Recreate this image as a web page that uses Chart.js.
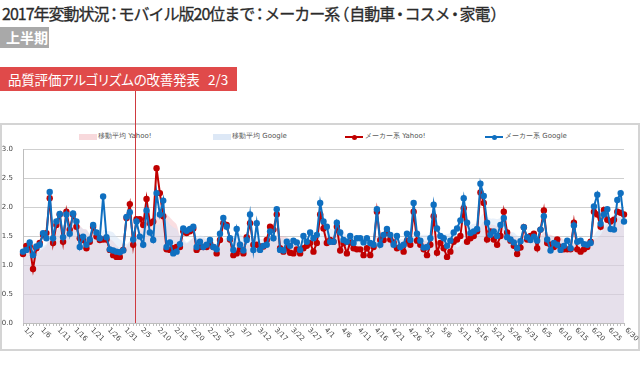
<!DOCTYPE html>
<html><head><meta charset="utf-8">
<script src="https://cdn.jsdelivr.net/npm/chart.js@4.4.1/dist/chart.umd.min.js"></script>
<style>
html,body{margin:0;padding:0;width:640px;height:378px;background:#fff;overflow:hidden;font-family:"Noto Sans CJK JP",sans-serif;}
#title{position:absolute;left:2px;top:1px;font-size:16px;color:#2b2b2b;letter-spacing:-1px;white-space:nowrap;line-height:24px;-webkit-text-stroke:0.3px #2b2b2b;}
#title .p{font-feature-settings:"palt";padding:0 1.5px;}
#term{position:absolute;left:0;top:27px;width:49px;height:21px;background:#a9a9a9;color:#fff;font-size:14px;font-weight:bold;line-height:21px;text-indent:6px;}
#banner{position:absolute;left:0;top:67px;width:237px;height:24px;background:#e04a4a;color:#fff;font-size:13.5px;line-height:24px;box-sizing:border-box;white-space:nowrap;}
#banner span{position:absolute;top:0;}
#frame{position:absolute;left:0;top:123px;width:640px;height:228px;box-sizing:border-box;border:2px solid #d4d4d4;}
#c{position:absolute;left:0;top:0;}
.lg{position:absolute;top:131px;font-family:"DejaVu Sans",sans-serif;font-size:7px;color:#555;white-space:nowrap;line-height:10px;}
.box{position:absolute;top:134px;width:18px;height:6px;}
.ln{position:absolute;top:136px;width:18px;height:2px;}
.dot{position:absolute;top:134.5px;width:5px;height:5px;border-radius:50%;}
</style></head>
<body>
<div id="title">2017年変動状況<span class="p">：</span>モバイル版20位まで<span class="p">：</span>メーカー系<span class="p">（</span>自動車<span class="p">・</span>コスメ<span class="p">・</span>家電<span class="p">）</span></div>
<div id="term">上半期</div>
<div id="banner"><span style="left:8px;font-feature-settings:'palt';letter-spacing:-0.2px;">品質評価アルゴリズムの改善発表</span><span style="left:208px;">2/3</span></div>
<div id="frame"></div>
<div class="box" style="left:79px;background:#f8d9dc;"></div>
<div class="lg" style="left:98px;">移動平均 Yahoo!</div>
<div class="box" style="left:213px;background:#dde8f6;"></div>
<div class="lg" style="left:232px;">移動平均 Google</div>
<div class="ln" style="left:345px;background:#c00000;"></div>
<div class="dot" style="left:351.5px;background:#c00000;"></div>
<div class="lg" style="left:365px;">メーカー系 Yahoo!</div>
<div class="ln" style="left:485px;background:#0f6fc0;"></div>
<div class="dot" style="left:491.5px;background:#0f6fc0;"></div>
<div class="lg" style="left:505px;">メーカー系 Google</div>
<canvas id="c" width="640" height="378"></canvas>
<script>
const tickLabels = ["1/1","1/6","1/11","1/16","1/21","1/26","1/31","2/5","2/10","2/15","2/20","2/25","3/2","3/7","3/12","3/17","3/22","3/27","4/1","4/6","4/11","4/16","4/21","4/26","5/1","5/6","5/11","5/16","5/21","5/26","5/31","6/5","6/10","6/15","6/20","6/25","6/30"];
const yTicks = [0, 0.5, 1.0, 1.5, 2.0, 2.5, 3.0];
const markerIndex = 33; // 2/3

const categories = [];
for (let d = new Date(2017,0,1); d <= new Date(2017,5,30); d.setDate(d.getDate()+1)) {
  categories.push((d.getMonth()+1) + '/' + d.getDate());
}

const yahoo = [1.19,1.33,1.32,0.93,1.29,1.38,1.52,1.55,2.15,1.38,
1.69,1.87,1.40,1.92,1.61,1.87,1.66,1.46,1.43,1.29,
1.40,1.66,1.49,1.43,1.44,1.44,1.26,1.17,1.14,1.14,
1.26,1.81,2.05,1.35,1.79,1.79,1.69,2.14,1.72,1.75,
2.67,2.24,1.84,1.27,1.26,1.29,1.31,1.31,1.58,1.55,
1.58,1.63,1.26,1.31,1.31,1.31,1.38,1.31,1.20,1.43,
1.72,1.69,1.44,1.17,1.20,1.27,1.20,1.48,1.72,1.35,
1.35,1.32,1.32,1.43,1.66,1.61,1.87,1.29,1.23,1.29,
1.21,1.20,1.27,1.20,1.29,1.33,1.38,1.23,1.38,1.87,
1.63,1.38,1.43,1.40,1.66,1.25,1.38,1.20,1.39,1.29,
1.27,1.27,1.17,1.29,1.17,1.31,1.92,1.43,1.43,1.56,
1.44,1.39,1.29,1.31,1.23,1.42,1.35,1.92,1.42,1.35,
1.27,1.17,1.35,1.84,1.21,1.38,1.29,1.14,1.23,1.40,
1.44,1.50,1.98,1.40,1.46,1.50,1.58,2.25,2.07,1.44,
1.58,1.44,1.35,1.50,1.92,1.56,1.42,1.33,1.19,1.30,
1.65,1.44,1.50,1.54,1.29,1.61,1.94,1.38,1.35,1.31,
1.44,1.31,1.27,1.27,1.27,1.73,1.27,1.23,1.27,1.31,
1.40,1.92,1.87,1.66,1.95,1.78,1.75,1.78,1.92,1.90,
1.87];

const google = [1.23,1.26,1.39,1.17,1.32,1.35,1.55,1.46,2.26,1.46,
1.75,1.88,1.48,1.87,1.54,1.89,1.75,1.31,1.49,1.35,
1.44,1.69,1.56,1.46,2.18,1.48,1.27,1.25,1.23,1.22,
1.25,1.83,1.91,1.44,1.75,1.49,1.35,1.94,1.56,1.43,
2.24,1.87,2.11,1.31,1.39,1.20,1.23,1.36,1.63,1.59,
1.62,1.66,1.31,1.40,1.31,1.35,1.43,1.31,1.27,1.54,
1.81,1.66,1.46,1.26,1.62,1.35,1.25,1.43,1.87,1.26,
1.72,1.26,1.33,1.35,1.58,1.46,1.96,1.26,1.25,1.40,
1.33,1.42,1.39,1.26,1.50,1.40,1.56,1.46,1.52,2.07,
1.75,1.66,1.40,1.40,1.73,1.56,1.43,1.40,1.50,1.38,
1.46,1.46,1.39,1.46,1.38,1.35,1.96,1.35,1.52,1.62,
1.52,1.35,1.50,1.31,1.35,1.54,1.43,2.07,1.54,1.42,
1.30,1.31,1.46,2.04,1.63,1.50,1.46,1.33,1.42,1.56,
1.63,1.77,2.15,1.73,1.55,1.58,1.62,2.40,2.19,1.73,
1.52,1.58,1.50,1.69,1.81,1.48,1.44,1.39,1.29,1.41,
1.65,1.48,1.43,1.49,1.42,1.61,1.84,1.44,1.25,1.38,
1.35,1.26,1.33,1.42,1.29,1.68,1.40,1.42,1.36,1.35,
1.38,2.01,2.21,1.71,1.87,1.96,1.62,1.61,2.12,2.24,
1.75];

const yahooMA = [1.19,1.26,1.28,1.19,1.21,1.24,1.28,1.33,1.45,1.46,
1.57,1.65,1.65,1.71,1.72,1.68,1.72,1.68,1.62,1.61,
1.53,1.54,1.48,1.45,1.45,1.45,1.45,1.41,1.34,1.29,
1.26,1.32,1.40,1.42,1.51,1.60,1.68,1.80,1.79,1.75,
1.86,1.90,1.90,1.88,1.82,1.76,1.70,1.50,1.41,1.37,
1.41,1.46,1.46,1.46,1.46,1.42,1.40,1.36,1.30,1.32,
1.38,1.43,1.45,1.42,1.41,1.42,1.38,1.35,1.35,1.34,
1.37,1.38,1.39,1.42,1.45,1.43,1.51,1.50,1.49,1.48,
1.45,1.39,1.34,1.24,1.24,1.26,1.27,1.27,1.30,1.38,
1.44,1.46,1.47,1.47,1.54,1.52,1.45,1.39,1.39,1.37,
1.35,1.29,1.28,1.27,1.26,1.25,1.34,1.37,1.39,1.44,
1.47,1.50,1.49,1.41,1.38,1.38,1.35,1.42,1.42,1.43,
1.42,1.41,1.40,1.47,1.37,1.37,1.36,1.34,1.35,1.36,
1.30,1.34,1.43,1.44,1.49,1.53,1.55,1.67,1.75,1.67,
1.70,1.69,1.67,1.66,1.61,1.54,1.54,1.50,1.47,1.46,
1.48,1.41,1.40,1.42,1.42,1.48,1.57,1.53,1.52,1.49,
1.47,1.48,1.43,1.33,1.32,1.37,1.37,1.34,1.33,1.34,
1.35,1.45,1.47,1.52,1.63,1.70,1.76,1.82,1.82,1.82,
1.85];

const googleMA = [1.23,1.25,1.29,1.26,1.27,1.29,1.32,1.36,1.50,1.51,
1.59,1.67,1.69,1.74,1.75,1.70,1.74,1.67,1.62,1.60,
1.54,1.56,1.51,1.47,1.60,1.59,1.58,1.56,1.49,1.44,
1.41,1.36,1.42,1.45,1.52,1.56,1.57,1.67,1.63,1.57,
1.68,1.70,1.79,1.78,1.70,1.65,1.62,1.50,1.46,1.39,
1.43,1.47,1.49,1.51,1.50,1.46,1.44,1.40,1.34,1.37,
1.43,1.48,1.50,1.47,1.52,1.53,1.49,1.43,1.46,1.43,
1.50,1.45,1.45,1.46,1.48,1.42,1.52,1.46,1.46,1.47,
1.46,1.44,1.43,1.33,1.36,1.39,1.41,1.43,1.44,1.54,
1.61,1.63,1.63,1.61,1.65,1.65,1.56,1.51,1.49,1.49,
1.49,1.46,1.43,1.44,1.43,1.41,1.49,1.48,1.49,1.52,
1.53,1.52,1.55,1.45,1.45,1.46,1.43,1.51,1.53,1.52,
1.52,1.52,1.50,1.59,1.53,1.52,1.53,1.53,1.55,1.56,
1.50,1.52,1.62,1.66,1.69,1.71,1.72,1.83,1.89,1.83,
1.80,1.80,1.79,1.80,1.72,1.62,1.57,1.56,1.51,1.50,
1.50,1.45,1.44,1.45,1.45,1.50,1.56,1.53,1.50,1.49,
1.47,1.45,1.41,1.35,1.33,1.39,1.39,1.40,1.41,1.42,
1.41,1.51,1.59,1.63,1.70,1.78,1.82,1.86,1.87,1.88,
1.88];

const tickIndex = tickLabels.map(l => categories.indexOf(l));

const extras = {
  id: 'extras',
  beforeDatasetDraw(chart, args) {
    if (args.index !== 1) return;
    const {ctx, chartArea, scales} = chart;
    const x = Math.round(scales.x.getPixelForValue(markerIndex + 0.5)) + 0.5;
    ctx.save();
    ctx.strokeStyle = '#cf3a3f';
    ctx.lineWidth = 1;
    ctx.beginPath();
    ctx.moveTo(x, 91);
    ctx.lineTo(x, chartArea.bottom);
    ctx.stroke();
    ctx.restore();
  },
  afterDraw(chart) {
    const {ctx, chartArea, scales} = chart;
    ctx.save();
    ctx.fillStyle = '#444';
    ctx.font = '7px "DejaVu Sans"';
    ctx.textAlign = 'left';
    ctx.textBaseline = 'middle';
    tickLabels.forEach((lab, k) => {
      const x = scales.x.getPixelForValue(tickIndex[k]);
      ctx.save();
      ctx.translate(x + 2, chartArea.bottom + 6);
      ctx.rotate(Math.PI / 4);
      ctx.fillText(lab, 0, 0);
      ctx.restore();
    });
    ctx.restore();
  }
};

new Chart(document.getElementById('c'), {
  type: 'line',
  data: {
    labels: categories,
    datasets: [
      {label: 'メーカー系 Google', data: google, borderColor: '#0f6fc0', backgroundColor: '#0f6fc0',
       borderWidth: 2, pointRadius: 3.2, pointBorderWidth: 0, fill: false, order: 0},
      {label: 'メーカー系 Yahoo!', data: yahoo, borderColor: '#c00000', backgroundColor: '#c00000',
       borderWidth: 2, pointRadius: 3.2, pointBorderWidth: 0, fill: false, order: 1},
      {label: '移動平均 Google', data: googleMA, borderWidth: 0, pointRadius: 0,
       backgroundColor: 'rgba(209,225,245,0.5)', borderColor: 'rgba(0,0,0,0)', fill: 'origin', tension: 0.3, order: 2},
      {label: '移動平均 Yahoo!', data: yahooMA, borderWidth: 0, pointRadius: 0,
       backgroundColor: 'rgba(238,145,155,0.3)', borderColor: 'rgba(0,0,0,0)', fill: 'origin', tension: 0.3, order: 3}
    ]
  },
  options: {
    responsive: false,
    animation: false,
    events: [],
    layout: {padding: {left: 0, right: 16, top: 149, bottom: 50}},
    plugins: {legend: {display: false}, title: {display: false}, tooltip: {enabled: false}},
    scales: {
      x: {
        ticks: {display: false},
        grid: {drawOnChartArea: false, drawTicks: true, tickLength: 3, color: '#bdbdbd'},
        border: {display: true, color: '#bdbdbd'},
        afterFit(s) { s.height = 5; }
      },
      y: {
        min: 0, max: 3,
        afterBuildTicks(s) { s.ticks = yTicks.map(v => ({value: v})); },
        ticks: {padding: 10, color: '#444', font: {family: 'DejaVu Sans', size: 7}, callback: v => v.toFixed(1)},
        grid: {color: '#cfcfcf', drawTicks: false},
        border: {display: true, color: '#bdbdbd'},
        afterFit(s) { s.width = 23; }
      }
    }
  },
  plugins: [extras]
});
</script>
</body></html>
